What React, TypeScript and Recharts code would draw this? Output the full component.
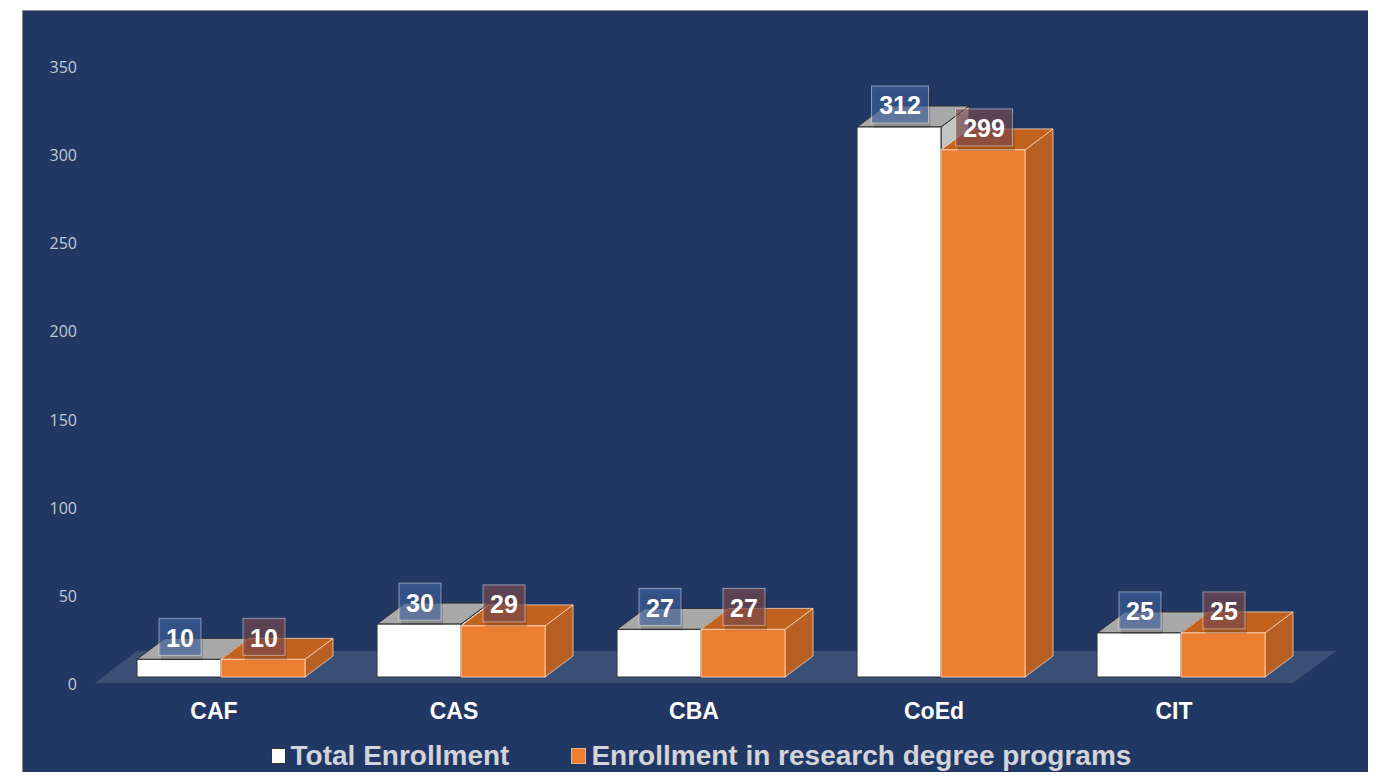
import { BarChart, Bar, XAxis, YAxis, LabelList, ReferenceArea } from 'recharts'

const colleges = ['CAF', 'CAS', 'CBA', 'CoEd', 'CIT']
const totalEnrollment = [10, 30, 27, 312, 25]
const researchEnrollment = [10, 29, 27, 299, 25]
const yTicks = [0, 50, 100, 150, 200, 250, 300, 350]

const data = colleges.map((c, i) => ({
  name: c,
  total: totalEnrollment[i],
  research: researchEnrollment[i],
}))

// depth of the fake 3D boxes
const DX = 28
const DY = 21

type Faces = { front: string; top: string; side: string; stroke: string }

const whiteFaces: Faces = { front: '#ffffff', top: '#a9a9a9', side: '#c4c4c4', stroke: '#2b2b2b' }
const orangeFaces: Faces = { front: '#ed7d31', top: '#c2621f', side: '#b75f25', stroke: 'rgba(255,225,200,0.75)' }

const makeBox = (f: Faces) => (props: any) => {
  const { x, y, width: w, height: h } = props
  if (w == null || h == null) return <g />
  return (
    <g>
      <polygon
        points={`${x + w},${y} ${x + w + DX},${y - DY} ${x + w + DX},${y + h - DY} ${x + w},${y + h}`}
        fill={f.side}
        stroke={f.stroke}
        strokeWidth={1}
      />
      <polygon
        points={`${x},${y} ${x + DX},${y - DY} ${x + w + DX},${y - DY} ${x + w},${y}`}
        fill={f.top}
        stroke={f.stroke}
        strokeWidth={1}
      />
      <rect x={x} y={y} width={w} height={h} fill={f.front} stroke={f.stroke} strokeWidth={1} />
    </g>
  )
}

const makeLabel = (fill: string) => (props: any) => {
  const { x, y, width, value } = props
  const text = String(value)
  const bw = text.length > 2 ? 57 : 42
  const bh = 37
  const cx = x + width / 2 + 1
  const bottom = y - 4
  return (
    <g>
      <rect x={cx - bw / 2 + 2} y={bottom - bh + 5} width={bw} height={bh} fill="rgba(0,0,0,0.15)" />
      <rect
        x={cx - bw / 2}
        y={bottom - bh}
        width={bw}
        height={bh}
        fill={fill}
        stroke="rgba(255,255,255,0.45)"
        strokeWidth={1}
      />
      <text
        x={cx}
        y={bottom - bh / 2 + 10}
        textAnchor="middle"
        fill="#ffffff"
        fontSize={25}
        fontWeight="bold"
        fontFamily="'Liberation Sans', Arial, sans-serif"
      >
        {text}
      </text>
    </g>
  )
}

const Floor = (props: any) => {
  const { x, y, width, height } = props
  const front = y + height + 6
  const left = x - 6
  const right = x + width - 8
  return (
    <polygon
      points={`${left},${front} ${right},${front} ${right + 43},${front - 32} ${left + 42},${front - 32}`}
      fill="rgba(255,255,255,0.12)"
    />
  )
}

const YTick = (props: any) => {
  const { x, y, payload } = props
  return (
    <text
      x={x}
      y={y + 7}
      textAnchor="end"
      dominantBaseline="central"
      fill="#c4c8d2"
      fontSize={16}
      fontFamily="'Open Sans', 'Liberation Sans', sans-serif"
    >
      {payload.value}
    </text>
  )
}

const XTick = (props: any) => {
  const { x, y, payload } = props
  return (
    <text
      x={x - 7}
      y={y + 42}
      textAnchor="middle"
      fill="#ffffff"
      fontSize={23}
      fontWeight="bold"
      fontFamily="'Liberation Sans', Arial, sans-serif"
    >
      {payload.value}
    </text>
  )
}

const legendItems = [
  { label: 'Total Enrollment', color: '#ffffff', border: '#333' },
  { label: 'Enrollment in research degree programs', color: '#ed7d31', border: '#f3b48a' },
]

export default function App() {
  return (
    <div style={{ position: 'relative', width: 1376, height: 780, margin: -8, background: '#fff', overflow: 'hidden' }}>
      <div
        style={{
          position: 'absolute',
          left: 22,
          top: 10,
          width: 1348,
          height: 780,
          background: '#213865',
          borderLeft: '1px solid #8a8a8a',
          borderTop: '1px solid #8a8a8a',
        }}
      />
      <div style={{ position: 'absolute', left: 0, top: 0 }}>
        <BarChart
          width={1376}
          height={780}
          data={data}
          margin={{ top: 60, right: 75, bottom: 73, left: 0 }}
          barCategoryGap="15%"
          barGap={0}
        >
          <ReferenceArea y1={0} y2={1} fill="none" shape={<Floor />} ifOverflow="visible" />
          <XAxis dataKey="name" axisLine={false} tickLine={false} tickSize={0} tickMargin={0} height={30} tick={<XTick />} interval={0} />
          <YAxis
            domain={[0, 350]}
            ticks={yTicks}
            width={101}
            axisLine={false}
            tickLine={false}
            tickSize={0}
            tickMargin={24}
            tick={<YTick />}
            interval={0}
          />
          <Bar dataKey="total" isAnimationActive={false} shape={makeBox(whiteFaces)}>
            <LabelList dataKey="total" content={makeLabel('rgba(68,103,164,0.62)')} />
          </Bar>
          <Bar dataKey="research" isAnimationActive={false} shape={makeBox(orangeFaces)}>
            <LabelList dataKey="research" content={makeLabel('rgba(127,76,81,0.65)')} />
          </Bar>
        </BarChart>
      </div>
      <div
        style={{
          position: 'absolute',
          top: 740,
          left: 0,
          width: 1402,
          display: 'flex',
          justifyContent: 'center',
          gap: 62,
          fontFamily: "'Liberation Sans', Arial, sans-serif",
          fontWeight: 'bold',
          fontSize: 28,
          color: '#d2d4da',
        }}
      >
        {legendItems.map((it) => (
          <div key={it.label} style={{ display: 'flex', alignItems: 'center' }}>
            <span
              style={{
                display: 'inline-block',
                width: 13,
                height: 14,
                background: it.color,
                border: `1px solid ${it.border}`,
                marginRight: 5,
              }}
            />
            <span>{it.label}</span>
          </div>
        ))}
      </div>
    </div>
  )
}
